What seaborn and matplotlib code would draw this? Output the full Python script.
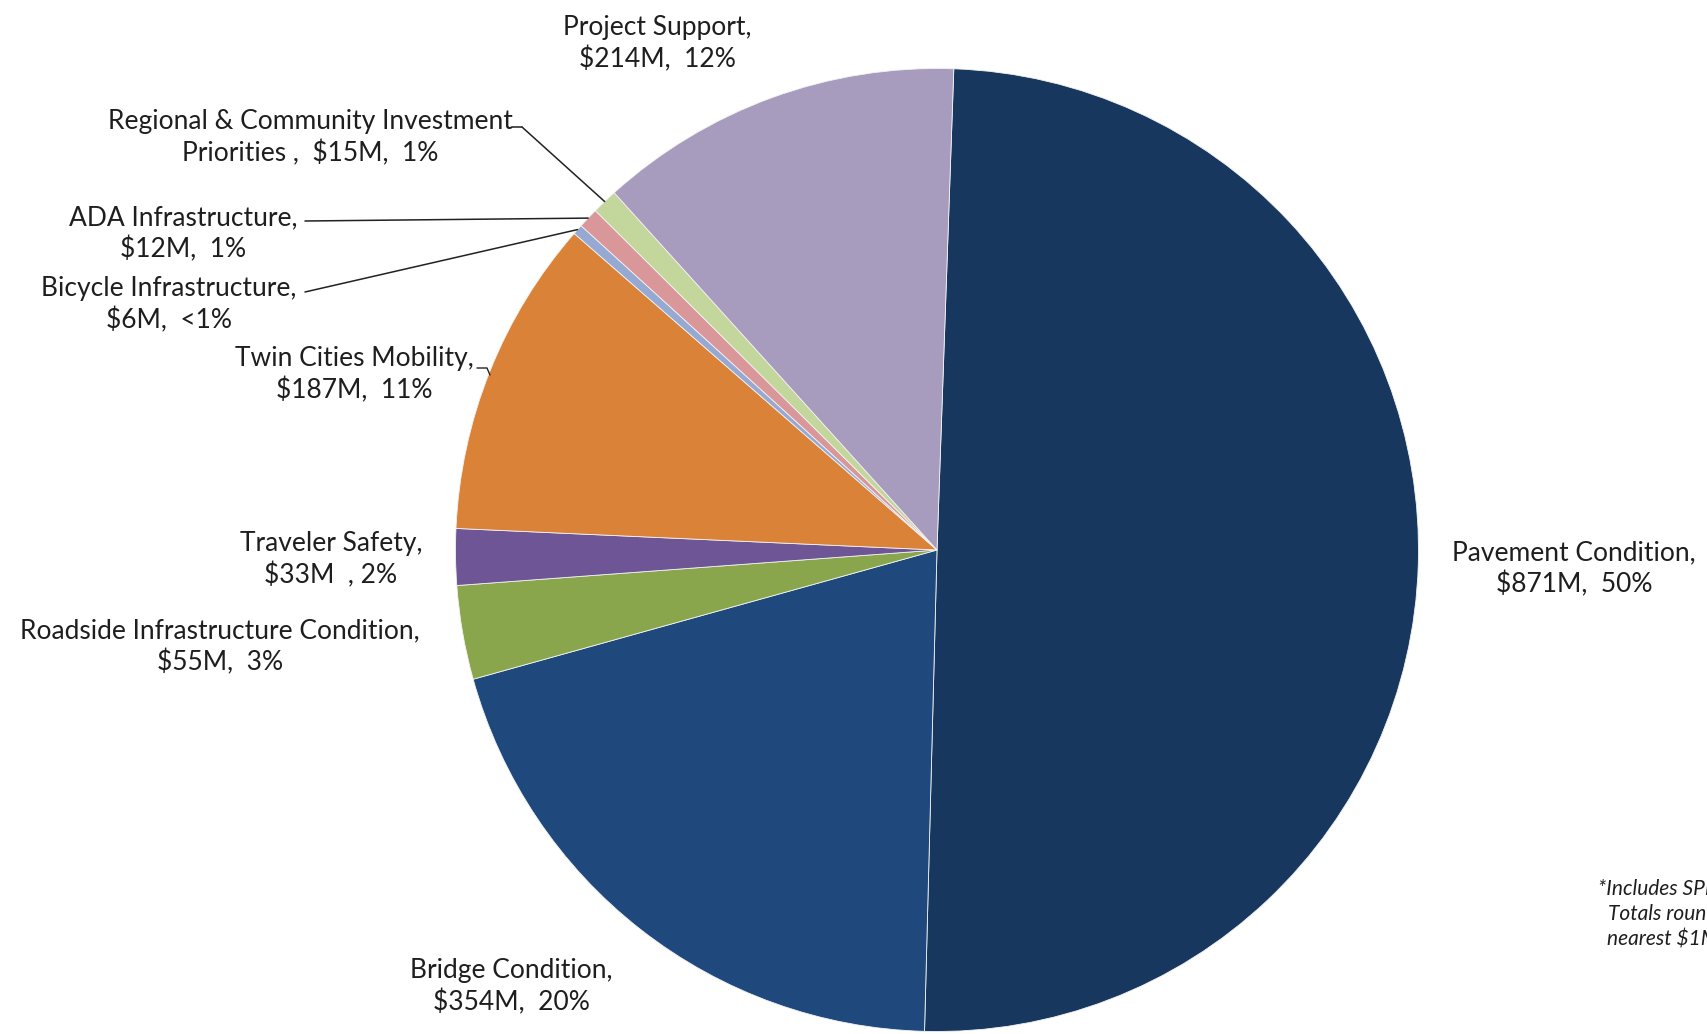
import numpy as np
import matplotlib
matplotlib.use("Agg")
import matplotlib.pyplot as plt
import seaborn as sns

# Data
categories = [
    "Pavement Condition", "Bridge Condition", "Roadside Infrastructure Condition",
    "Traveler Safety", "Twin Cities Mobility", "Bicycle Infrastructure",
    "ADA Infrastructure", "Regional & Community Investment Priorities",
    "Project Support",
]
amounts = [871, 354, 55, 33, 187, 6, 12, 15, 214]          # $M
pct_labels = ["50%", "20%", "3%", "2%", "11%", "<1%", "1%", "1%", "12%"]
slice_colors = ["#17375E", "#1F497D", "#8AA64C", "#6E5595", "#DA8238",
                "#95A9D3", "#D9979A", "#C3D69B", "#A79BBE"]

label_texts = [
    "Pavement Condition,\n$871M,  50%",
    "Bridge Condition,\n$354M,  20%",
    "Roadside Infrastructure Condition,\n$55M,  3%",
    "Traveler Safety,\n$33M  , 2%",
    "Twin Cities Mobility,\n$187M,  11%",
    "Bicycle Infrastructure,\n$6M,  <1%",
    "ADA Infrastructure,\n$12M,  1%",
    "Regional & Community Investment\nPriorities ,  $15M,  1%",
    "Project Support,\n$214M,  12%",
]
footnote_lines = ["*Includes SPP funds", "Totals rounded to", "nearest $1M"]

W, H = 1708, 1034
sns.set_theme(style="white")
plt.rcParams["font.family"] = ["Lato", "DejaVu Sans"]

fig = plt.figure(figsize=(W / 100, H / 100), dpi=100)
ax = fig.add_axes([0, 0, 1, 1])

# pie geometry in pixel coords (y up)
cx, cy, R = 937, H - 550, 481.5
palette = sns.color_palette(slice_colors)
wedges, _ = ax.pie(amounts, colors=palette, startangle=88, counterclock=False,
                   center=(cx, cy), radius=R,
                   wedgeprops=dict(edgecolor="#f2f2f2", linewidth=0.6))
ax.set_xlim(0, W)
ax.set_ylim(0, H)
ax.set_aspect("equal")
ax.axis("off")

# label centres (pixel coords, y measured from top)
label_pos = [(1574, 569), (511, 987), (220, 647), (331, 560), (354, 375),
             (169, 305), (183, 234), (310, 138), (657, 44)]
txt_color = "#1e1e1e"
for text, (x, y) in zip(label_texts, label_pos):
    ax.text(x, H - y, text, ha="center", va="center", fontsize=19,
            color=txt_color, linespacing=1.3)

def edge_point(w):
    a = np.deg2rad((w.theta1 + w.theta2) / 2)
    return cx + R * np.cos(a), cy + R * np.sin(a)

# leader lines for the thin slices
leaders = {5: (305, 292), 6: (305, 221), 7: (522, 127)}
for i, (x0, y0) in leaders.items():
    ex, ey = edge_point(wedges[i])
    ax.plot([x0, ex], [H - y0, ey], color="#222222", lw=1.1)
# Regional label underline hook
ax.plot([512, 522], [H - 127, H - 127], color="#222222", lw=1.1)
# small hook beside Twin Cities label
ax.plot([477, 487, 490], [H - 368, H - 368, H - 375], color="#222222", lw=1.0)

# footnote (runs off the right edge, as in the original)
for txt, (x, y) in zip(footnote_lines, [(1598, 889), (1608, 914), (1607, 940)]):
    ax.text(x, H - y, txt, ha="left", va="center", fontsize=15,
            style="italic", color=txt_color)

fig.savefig("out.png", dpi=100)
plt.close(fig)
